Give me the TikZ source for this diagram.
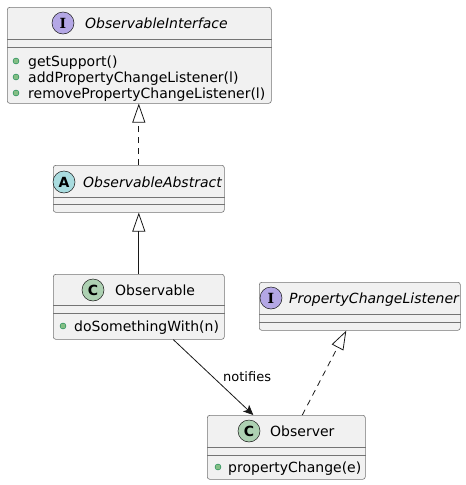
\documentclass[tikz,border=0pt]{standalone}
\usepackage{fontspec}
\setmainfont{DejaVu Sans}
\newfontfamily\serifb{DejaVu Serif}
\usetikzlibrary{arrows.meta}
\definecolor{boxbg}{HTML}{F1F1F1}
\definecolor{boxline}{HTML}{181818}
\definecolor{icI}{HTML}{B4A7E5}
\definecolor{icA}{HTML}{A9DCDF}
\definecolor{icC}{HTML}{ADD1B2}
\definecolor{pubfill}{HTML}{84BE84}
\definecolor{publine}{HTML}{038048}
\begin{document}
\begin{tikzpicture}[x=1pt,y=-1pt,
 cls/.style={draw=boxline!60, fill=boxbg, line width=0.6pt, rounded corners=2.5pt, inner sep=0pt, anchor=north west},
 sepl/.style={draw=boxline!60, line width=0.6pt},
 icon/.style={circle, draw=boxline, line width=0.5pt, minimum size=22pt, inner sep=0pt, font=\bfseries\fontsize{14}{14}\selectfont},
 title/.style={anchor=base west, inner sep=0pt, font=\fontsize{14}{16}\selectfont},
 ititle/.style={anchor=base west, inner sep=0pt, font=\itshape\fontsize{14}{16}\selectfont},
 member/.style={anchor=base west, inner sep=0pt, font=\fontsize{14}{16}\selectfont},
 pub/.style={circle, fill=pubfill, draw=publine, line width=0.4pt, minimum size=6pt, inner sep=0pt},
 rel/.style={draw=boxline, line width=0.8pt},
 realize/.style={rel, dash pattern=on 6pt off 5pt, -{Triangle[open, length=19pt, width=13pt]}},
 extend/.style={rel, -{Triangle[open, length=19pt, width=13pt]}},
 assoc/.style={rel, -{Stealth[length=10pt, width=9pt, inset=2.5pt]}},
 lbl/.style={anchor=base west, inner sep=0pt, font=\fontsize{13}{13}\selectfont},
]
\useasboundingbox (0,0) rectangle (466,485);

% ObservableInterface
\node[cls, minimum width=264, minimum height=96] (oi) at (7,7) {};
\draw[sepl] ([yshift=-32pt]oi.north west) -- ([yshift=-32pt]oi.north east);
\draw[sepl] ([yshift=-40pt]oi.north west) -- ([yshift=-40pt]oi.north east);
\node[icon, fill=icI] (oiI) at (63,23) {\serifb\bfseries I};
\node[ititle] (oiT) at (85,28) {ObservableInterface};
\node[pub] (oiP1) at (16,61) {};
\node[member] (oiM1) at (28,66) {getSupport()};
\node[pub] (oiP2) at (16,77) {};
\node[member] (oiM2) at (28,82) {addPropertyChangeListener(l)};
\node[pub] (oiP3) at (16,93) {};
\node[member] (oiM3) at (28,98) {removePropertyChangeListener(l)};

% ObservableAbstract
\node[cls, minimum width=171, minimum height=47] (oa) at (53,165) {};
\draw[sepl] ([yshift=-32pt]oa.north west) -- ([yshift=-32pt]oa.north east);
\draw[sepl] ([yshift=-39pt]oa.north west) -- ([yshift=-39pt]oa.north east);
\node[icon, fill=icA] (oaI) at (64,182) {A};
\node[ititle] (oaT) at (83,187) {ObservableAbstract};

% Observable
\node[cls, minimum width=171, minimum height=65] (ob) at (53,274) {};
\draw[sepl] ([yshift=-31pt]ob.north west) -- ([yshift=-31pt]ob.north east);
\draw[sepl] ([yshift=-39pt]ob.north west) -- ([yshift=-39pt]ob.north east);
\node[icon, fill=icC] (obI) at (93,290) {C};
\node[title] (obT) at (115,295) {Observable};
\node[pub] (obP1) at (63,326) {};
\node[member] (obM1) at (74,331) {doSomethingWith(n)};

% PropertyChangeListener
\node[cls, minimum width=201, minimum height=48] (pcl) at (259,282) {};
\draw[sepl] ([yshift=-32pt]pcl.north west) -- ([yshift=-32pt]pcl.north east);
\draw[sepl] ([yshift=-40pt]pcl.north west) -- ([yshift=-40pt]pcl.north east);
\node[icon, fill=icI] (pclI) at (271,298) {\serifb\bfseries I};
\node[ititle] (pclT) at (289,303) {PropertyChangeListener};

% Observer
\node[cls, minimum width=158, minimum height=64] (obs) at (207,415) {};
\draw[sepl] ([yshift=-32pt]obs.north west) -- ([yshift=-32pt]obs.north east);
\draw[sepl] ([yshift=-40pt]obs.north west) -- ([yshift=-40pt]obs.north east);
\node[icon, fill=icC] (obsI) at (249,431) {C};
\node[title] (obsT) at (270,436) {Observer};
\node[pub] (obsP1) at (218,467) {};
\node[member] (obsM1) at (228,472) {propertyChange(e)};

% connectors
\draw[realize] (oa.north) -- (oa.north |- oi.south);
\draw[extend] (ob.north) -- (oa.south);
\draw[realize] ([xshift=16pt]obs.north) -- ([xshift=-13.5pt]pcl.south);
\draw[assoc] ([xshift=34.5pt]ob.south) -- ([xshift=-33pt]obs.north);
\node[lbl] (notif) at (223,381) {notifies};
\end{tikzpicture}
\end{document}
